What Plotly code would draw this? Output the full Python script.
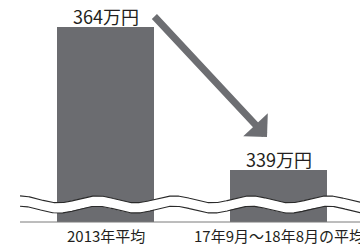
import numpy as np
import plotly.graph_objects as go

# Data
categories = ["2013年平均", "17年9月～18年8月の平均"]
values = [364, 339]
value_labels = ["364万円", "339万円"]
base_value = 330  # axis is broken; bars start here
positions = [0, 1]

BAR_COLOR = "#6b6c70"
TEXT_COLOR = "#231f20"
FONT = "Noto Sans CJK JP"

W, H = 360, 247

fig = go.Figure()

fig.add_trace(go.Bar(
    x=positions, y=[v - base_value for v in values], base=base_value,
    marker=dict(color=BAR_COLOR, line=dict(width=0)),
    width=0.561, hoverinfo="skip", showlegend=False,
))

# decorative wavy axis-break band
xs = np.linspace(-0.494, 1.48, 400)
period = 0.445
amp = 0.6
phase = -0.049
wave = amp * np.cos(2 * np.pi * (xs - phase) / period)
upper = 333.95 + wave
lower = 332.15 + wave
fig.add_trace(go.Scatter(
    x=np.concatenate([xs, xs[::-1]]), y=np.concatenate([upper, lower[::-1]]),
    fill="toself", fillcolor="white", line=dict(width=0), mode="lines",
    hoverinfo="skip", showlegend=False,
))
for yy in (upper, lower):
    fig.add_trace(go.Scatter(
        x=xs, y=yy, mode="lines", line=dict(color="#2a2a2a", width=1.1),
        hoverinfo="skip", showlegend=False,
    ))

# baseline
fig.add_shape(type="line", x0=-0.494, x1=1.48, y0=base_value, y1=base_value,
              xref="x", yref="y", line=dict(color="#7a7a7a", width=1))

# value labels
for p, v, t in zip(positions, values, value_labels):
    fig.add_annotation(x=p, y=v, text=t, showarrow=False, yanchor="middle",
                       yshift=11, font=dict(family=FONT, size=18, color=TEXT_COLOR))

# category labels
for p, c in zip(positions, categories):
    fig.add_annotation(x=p, y=327.6, text=c, showarrow=False, yanchor="middle",
                       borderpad=0,
                       font=dict(family=FONT, size=15, color=TEXT_COLOR))

# arrow
fig.add_annotation(xref="paper", yref="paper", x=267 / W, y=1 - 137 / H,
                   ax=-114, ay=-122, text="", showarrow=True,
                   arrowhead=1, arrowsize=0.8, arrowwidth=7, arrowcolor="#6d6e72")

fig.update_layout(
    width=W, height=H, margin=dict(l=0, r=0, t=0, b=0, pad=0),
    paper_bgcolor="white", plot_bgcolor="white",
    xaxis=dict(range=[-0.6098, 1.4711], visible=False, fixedrange=True),
    yaxis=dict(range=[325.64, 368.71], visible=False, fixedrange=True),
    bargap=0,
)

fig.write_html("out.html", config={"displayModeBar": False},
               post_script="document.body.style.margin='0px';")
